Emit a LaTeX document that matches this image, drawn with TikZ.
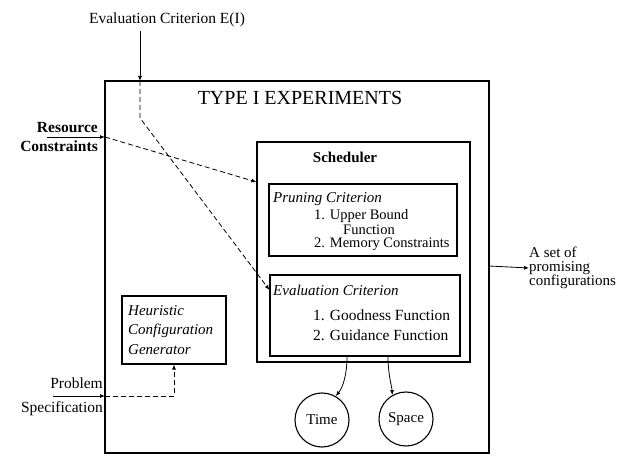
\documentclass[tikz,border=0pt]{standalone}
\usepackage{fontspec}
\setmainfont{Liberation Serif}
\usetikzlibrary{arrows.meta}
\begin{document}
\begin{tikzpicture}[x=1pt,y=-1pt,
  box/.style={draw,line width=1.1pt,inner sep=0pt},
  lbl/.style={inner sep=0pt,font=\fontsize{15.5}{16}\selectfont},
  itl/.style={inner sep=0pt,font=\fontsize{15}{16}\selectfont\itshape},
  arr/.style={line width=0.8pt,-{Latex[length=5pt,width=4pt]}},
  dsh/.style={arr,dash pattern=on 5pt off 3pt},
  circ/.style={draw,line width=1.1pt,circle,minimum size=54pt,inner sep=0pt,font=\fontsize{15}{16}\selectfont}]
\useasboundingbox (0,0) rectangle (638,457);
% boxes
\node[box,minimum width=384pt,minimum height=372pt] (outer) at (297,267) {};
\node[box,minimum width=213pt,minimum height=220pt] (sched) at (363.5,252) {};
\node[box,minimum width=188pt,minimum height=72pt] (prune) at (363,220) {};
\node[box,minimum width=190pt,minimum height=81pt] (evalb) at (365,315.5) {};
\node[box,minimum width=104pt,minimum height=68pt] (heur) at (174,330) {};
\node[circ] (time) at (322,420) {Time};
\node[circ] (space) at (406,419) {Space};
% texts
\node[inner sep=0pt,font=\fontsize{20}{21}\selectfont] (title) at (300,98) {TYPE I EXPERIMENTS};
\node[lbl,font=\fontsize{15}{16}\selectfont\bfseries] (sl) at (345,157) {Scheduler};
\node[itl,anchor=west] (pc) at (273,199) {Pruning Criterion};
\node[lbl,anchor=west,font=\fontsize{14.5}{15}\selectfont] (p1) at (314,216) {1. Upper Bound};
\node[lbl,anchor=west,font=\fontsize{14.5}{15}\selectfont] (p1b) at (343,229.5) {Function};
\node[lbl,anchor=west,font=\fontsize{14.5}{15}\selectfont] (p2) at (314,244) {2. Memory Constraints};
\node[itl,anchor=west] (ec) at (273,290) {Evaluation Criterion};
\node[lbl,anchor=west] (e1) at (313,315) {1. Goodness Function};
\node[lbl,anchor=west] (e2) at (313,335) {2. Guidance Function};
\node[itl,anchor=west,align=left,font=\fontsize{15}{19.5}\selectfont\itshape] (ht) at (128,330) {Heuristic\\Configuration\\Generator};
\node[lbl] (evlab) at (167,20) {Evaluation Criterion E(I)};
\node[lbl,anchor=east,align=right,font=\fontsize{15.5}{19}\selectfont\bfseries] (rc) at (98,137) {Resource\\Constraints};
\node[lbl,anchor=east,align=right,font=\fontsize{15.5}{24}\selectfont] (ps) at (103,397) {Problem\\Specification};
\node[lbl,anchor=west,align=left,font=\fontsize{15}{13.5}\selectfont] (out) at (529,268) {A set of\\promising\\configurations};
% connector points
\coordinate (ea) at (140,31);
\coordinate (eb) at (140,81);
\coordinate (ec1) at (140,118);
\coordinate (ra) at (47,137);
\coordinate (rb) at (105,137);
\coordinate (pa) at (53,396);
\coordinate (pb) at (105,396);
\coordinate (oa) at (489,266);
% connectors
\draw[arr] (ea) -- (eb);
\draw[dsh] (eb) -- (ec1) -- (evalb.west |- ec.west);
\draw[arr] (ra) -- (rb);
\draw[dsh] (rb) -- (sched.west |- 0,182);
\draw[arr] (pa) -- (pb);
\draw[dsh] (pb) -| (heur.south);
\draw[arr] (oa) -- (out.west);
\draw[arr] (347,356) .. controls (347,375) and (343,387) .. (time.60);
\draw[arr] (388,356) .. controls (388,375) and (392,387) .. (space.120);
\end{tikzpicture}
\end{document}
